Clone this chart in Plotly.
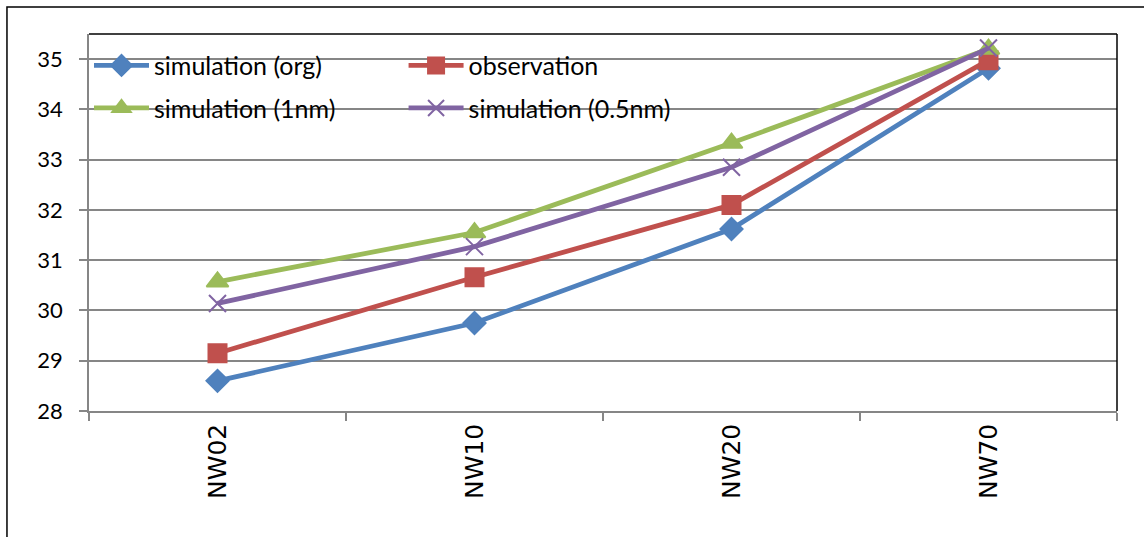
import plotly.graph_objects as go

# Sites along the transect
sites = ["NW02", "NW10", "NW20", "NW70"]

# Series values
sim_org = [28.6, 29.75, 31.62, 34.82]
observation = [29.15, 30.66, 32.1, 34.98]
sim_1nm = [30.57, 31.55, 33.33, 35.2]
sim_05nm = [30.14, 31.27, 32.85, 35.22]

y_ticks = [28, 29, 30, 31, 32, 33, 34, 35]

FONT = "Lato"
GRID = "#868686"

fig = go.Figure()

series = [
    ("simulation (org)", sim_org, "#4F81BD", "diamond", 17, "legend"),
    ("observation", observation, "#C0504D", "square", 18, "legend2"),
    ("simulation (1nm)", sim_1nm, "#9BBB59", "triangle-up", 19, "legend"),
    ("simulation (0.5nm)", sim_05nm, "#8064A2", "x-thin-open", 17, "legend2"),
]

for name, vals, color, symbol, size, leg in series:
    fig.add_trace(go.Scatter(
        x=sites, y=vals, name=name, mode="lines+markers",
        line=dict(color=color, width=4.8),
        marker=dict(symbol=symbol, size=size, color=color,
                    line=dict(color=color, width=2)),
        legend=leg, legendgroup=name,
    ))

legend_common = dict(
    orientation="v", bgcolor="rgba(0,0,0,0)", borderwidth=0,
    font=dict(family=FONT, size=25, color="black"),
    tracegroupgap=7, itemwidth=55,
    xanchor="left", yanchor="top",
)

fig.update_layout(
    width=1144, height=537,
    margin=dict(l=89, r=27, t=34, b=126),
    paper_bgcolor="white", plot_bgcolor="white",
    font=dict(family=FONT, size=22, color="black"),
    legend=dict(x=0.0, y=0.977, **legend_common),
    legend2=dict(x=0.306, y=0.977, **legend_common),
    xaxis=dict(
        type="category", range=[-0.5, 3.5],
        showgrid=False, showline=True, linecolor=GRID, linewidth=1.5,
        ticks="outside", tickson="boundaries", ticklen=8,
        tickcolor=GRID, tickwidth=1.5,
        tickangle=-90, ticklabelstandoff=1,
        tickfont=dict(family="DejaVu Sans", size=25, color="black"),
    ),
    yaxis=dict(
        range=[28, 35.5], tickvals=y_ticks,
        showgrid=True, gridcolor=GRID, gridwidth=1.5,
        showline=True, linecolor=GRID, linewidth=1.5,
        ticks="outside", ticklen=8, tickcolor=GRID, tickwidth=1.5,
        ticklabelstandoff=12, zeroline=False,
        tickfont=dict(family=FONT, size=22, color="black"),
    ),
    showlegend=True,
)

# Plot-area frame on top and right
fig.add_shape(type="line", xref="paper", yref="paper", x0=0, x1=1, y0=1, y1=1,
              line=dict(color="black", width=1.5))
fig.add_shape(type="line", xref="paper", yref="paper", x0=1, x1=1, y0=0, y1=1,
              line=dict(color="black", width=1.5))

# Outer chart border
fig.add_shape(type="rect", xref="paper", yref="paper",
              x0=-0.0798, x1=1.06, y0=-0.4, y1=1.0716,
              line=dict(color="black", width=1.5))

fig.write_html("out.html")
